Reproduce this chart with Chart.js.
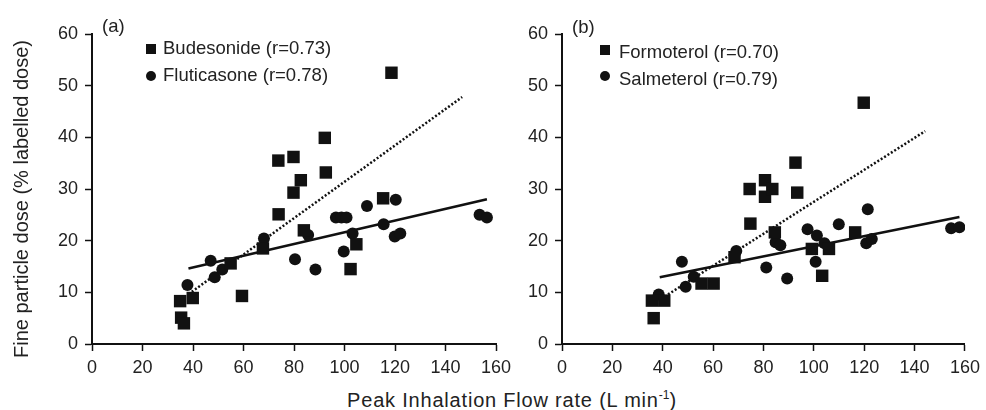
<!DOCTYPE html>
<html>
<head>
<meta charset="utf-8">
<script src="https://cdn.jsdelivr.net/npm/chart.js@4.4.1/dist/chart.umd.min.js"></script>
<style>
  body { margin: 0; background: #fff; }
  #wrap { position: relative; width: 986px; height: 410px; overflow: hidden; font-family: "Liberation Sans", Arial, sans-serif; }
  .painel { position: absolute; top: 0; }
  #titulo_x { position: absolute; left: 0; width: 1024px; top: 390px; text-align: center; font-size: 20px; letter-spacing: 0.8px; line-height: 20px; color: #222; }
  #titulo_x sup { font-size: 12px; line-height: 0; vertical-align: 8px; letter-spacing: 0; }
  #titulo_y { position: absolute; left: -159px; top: 187px; width: 360px; height: 24px; line-height: 24px; text-align: center; font-size: 20px; color: #222; transform: rotate(-90deg); }
</style>
</head>
<body>
<div id="wrap">
  <canvas id="grafico_a" class="painel" width="520" height="380" style="left:0"></canvas>
  <canvas id="grafico_b" class="painel" width="481" height="380" style="left:505px"></canvas>
  <div id="titulo_y"></div>
  <div id="titulo_x">Peak Inhalation Flow rate (L min<sup>-1</sup>)</div>
</div>
<script>
// (a) Budesonide - quadrados
const bud_x = [34.9, 35.3, 36.4, 39.9, 54.9, 59.4, 67.7, 73.8, 73.9, 79.8, 79.8, 82.7, 83.9, 92.2, 92.6, 102.4, 104.7, 115.3, 118.6];
const bud_y = [8.3, 5.1, 4.0, 8.9, 15.6, 9.3, 18.5, 35.5, 25.1, 36.2, 29.3, 31.7, 22.0, 39.9, 33.2, 14.5, 19.3, 28.2, 52.5];
// (a) Fluticasone - circulos
const flut_x = [37.8, 47.0, 48.6, 51.6, 68.1, 80.4, 85.6, 88.5, 96.6, 98.8, 100.8, 99.7, 103.2, 108.9, 115.5, 120.3, 119.9, 122.1, 153.5, 156.4];
const flut_y = [11.4, 16.1, 12.9, 14.4, 20.4, 16.4, 21.1, 14.4, 24.5, 24.5, 24.5, 17.9, 21.4, 26.7, 23.2, 27.9, 20.8, 21.4, 25.0, 24.5];
// (b) Formoterol - quadrados
const form_x = [35.7, 36.4, 40.6, 55.4, 60.2, 68.5, 74.5, 74.8, 80.6, 80.6, 83.5, 84.5, 92.7, 93.4, 99.2, 103.3, 106.0, 116.4, 119.8];
const form_y = [8.4, 5.0, 8.4, 11.7, 11.7, 16.8, 30.0, 23.3, 31.7, 28.5, 30.0, 21.6, 35.1, 29.3, 18.4, 13.2, 18.4, 21.6, 46.7];
// (b) Salmeterol - circulos
const salm_x = [38.4, 47.6, 49.1, 52.3, 69.2, 81.1, 84.8, 86.7, 89.4, 97.5, 101.2, 100.7, 104.2, 109.9, 121.4, 120.8, 123.0, 154.5, 157.8];
const salm_y = [9.6, 15.9, 11.1, 13.0, 18.0, 14.8, 19.7, 19.1, 12.7, 22.2, 21.0, 15.9, 19.5, 23.2, 26.1, 19.5, 20.3, 22.4, 22.6];

// retas de regressao (extremos)
const reta_bud_x = [39.5, 146.6],  reta_bud_y = [10.1, 47.8];
const reta_flut_x = [38.2, 156.4], reta_flut_y = [14.6, 28.0];
const reta_form_x = [42.1, 144.2], reta_form_y = [9.6, 41.2];
const reta_salm_x = [38.8, 157.8], reta_salm_y = [12.9, 24.6];

const ticks_x = [0, 20, 40, 60, 80, 100, 120, 140, 160];
const ticks_y = [0, 10, 20, 30, 40, 50, 60];

const rotulos_a = ['Budesonide (r=0.73)', 'Fluticasone (r=0.78)'];
const rotulos_b = ['Formoterol (r=0.70)', 'Salmeterol (r=0.79)'];
const titulo_y = 'Fine particle dose (% labelled dose)';

const FONTE = '"Liberation Sans", Arial, sans-serif';
const PRETO = '#111';
const TEXTO = '#222';

document.getElementById('titulo_y').textContent = titulo_y;

function pares(xs, ys) {
  return xs.map((x, i) => ({ x: x, y: ys[i] }));
}

// legenda e rotulo do painel desenhados a mao
const plugin_legenda = {
  id: 'legenda_painel',
  afterDatasetsDraw(chart, args, opts) {
    const ctx = chart.ctx;
    const area = chart.chartArea;
    ctx.save();
    ctx.fillStyle = TEXTO;
    ctx.font = '18.5px ' + FONTE;
    ctx.textBaseline = 'middle';
    ctx.textAlign = 'left';
    ctx.fillText(opts.rotulo, area.left + opts.rotuloX, opts.rotuloY);
    chart.data.datasets.filter((d) => !d.showLine).forEach((d, i) => {
      const mx = area.left + opts.marcaX;
      const my = opts.marcaY[i];
      ctx.fillStyle = PRETO;
      if (d.pointStyle === 'rect') {
        ctx.fillRect(mx - 5, my - 5, 10, 10);
      } else {
        ctx.beginPath();
        ctx.arc(mx, my, 5, 0, Math.PI * 2);
        ctx.fill();
      }
      ctx.fillStyle = TEXTO;
      ctx.fillText(d.label, area.left + opts.textoX, opts.textoY[i]);
    });
    ctx.restore();
  },
};

function montar_painel(idElemento, cfg) {
  const ctx = document.getElementById(idElemento);
  const datasets = [
    { label: cfg.rotulos[0], data: pares(cfg.q_x, cfg.q_y), pointStyle: 'rect', pointRadius: 8.8,
      backgroundColor: PRETO, borderColor: PRETO, borderWidth: 0 },
    { label: cfg.rotulos[1], data: pares(cfg.c_x, cfg.c_y), pointStyle: 'circle', pointRadius: 6,
      backgroundColor: PRETO, borderColor: PRETO, borderWidth: 0 },
    { label: 'reta1', data: pares(cfg.r1_x, cfg.r1_y), showLine: true, pointRadius: 0,
      borderColor: PRETO, borderWidth: 2.5, borderDash: [2, 2] },
    { label: 'reta2', data: pares(cfg.r2_x, cfg.r2_y), showLine: true, pointRadius: 0,
      borderColor: PRETO, borderWidth: 2.5 },
  ];
  return new Chart(ctx, {
    type: 'scatter',
    data: { datasets },
    plugins: [plugin_legenda],
    options: {
      responsive: false,
      animation: false,
      layout: { autoPadding: false, padding: { top: 34, right: cfg.dir, bottom: 0, left: 0 } },
      plugins: {
        legend: { display: false },
        tooltip: { enabled: false },
        legenda_painel: cfg.legenda,
      },
      scales: {
        x: {
          type: 'linear', min: 0, max: 160,
          afterBuildTicks: (s) => { s.ticks = ticks_x.map((v) => ({ value: v })); },
          afterFit: (s) => { s.height = 36; },
          grid: { drawOnChartArea: false, drawTicks: true, tickLength: 7, tickColor: PRETO, tickWidth: 1.5 },
          border: { color: PRETO, width: 2 },
          ticks: { color: TEXTO, font: { family: FONTE, size: 18 }, padding: 6, maxRotation: 0 },
        },
        y: {
          type: 'linear', min: 0, max: 60,
          afterBuildTicks: (s) => { s.ticks = ticks_y.map((v) => ({ value: v })); },
          afterFit: (s) => { s.width = cfg.larg_y; },
          grid: { drawOnChartArea: false, drawTicks: true, tickLength: 7, tickColor: PRETO, tickWidth: 1.5 },
          border: { color: PRETO, width: 2 },
          ticks: { color: TEXTO, font: { family: FONTE, size: 18 }, padding: 7 },
        },
      },
    },
  });
}

montar_painel('grafico_a', {
  q_x: bud_x, q_y: bud_y, c_x: flut_x, c_y: flut_y,
  r1_x: reta_bud_x, r1_y: reta_bud_y, r2_x: reta_flut_x, r2_y: reta_flut_y,
  rotulos: rotulos_a, larg_y: 92, dir: 24,
  legenda: { rotulo: '(a)', rotuloX: 10, rotuloY: 27, marcaX: 59, marcaY: [49, 76], textoX: 71, textoY: [49, 76] },
});
montar_painel('grafico_b', {
  q_x: form_x, q_y: form_y, c_x: salm_x, c_y: salm_y,
  r1_x: reta_form_x, r1_y: reta_form_y, r2_x: reta_salm_x, r2_y: reta_salm_y,
  rotulos: rotulos_b, larg_y: 57, dir: 18,
  legenda: { rotulo: '(b)', rotuloX: 10, rotuloY: 28, marcaX: 43, marcaY: [50, 76], textoX: 57, textoY: [53, 80] },
});
</script>
</body>
</html>
